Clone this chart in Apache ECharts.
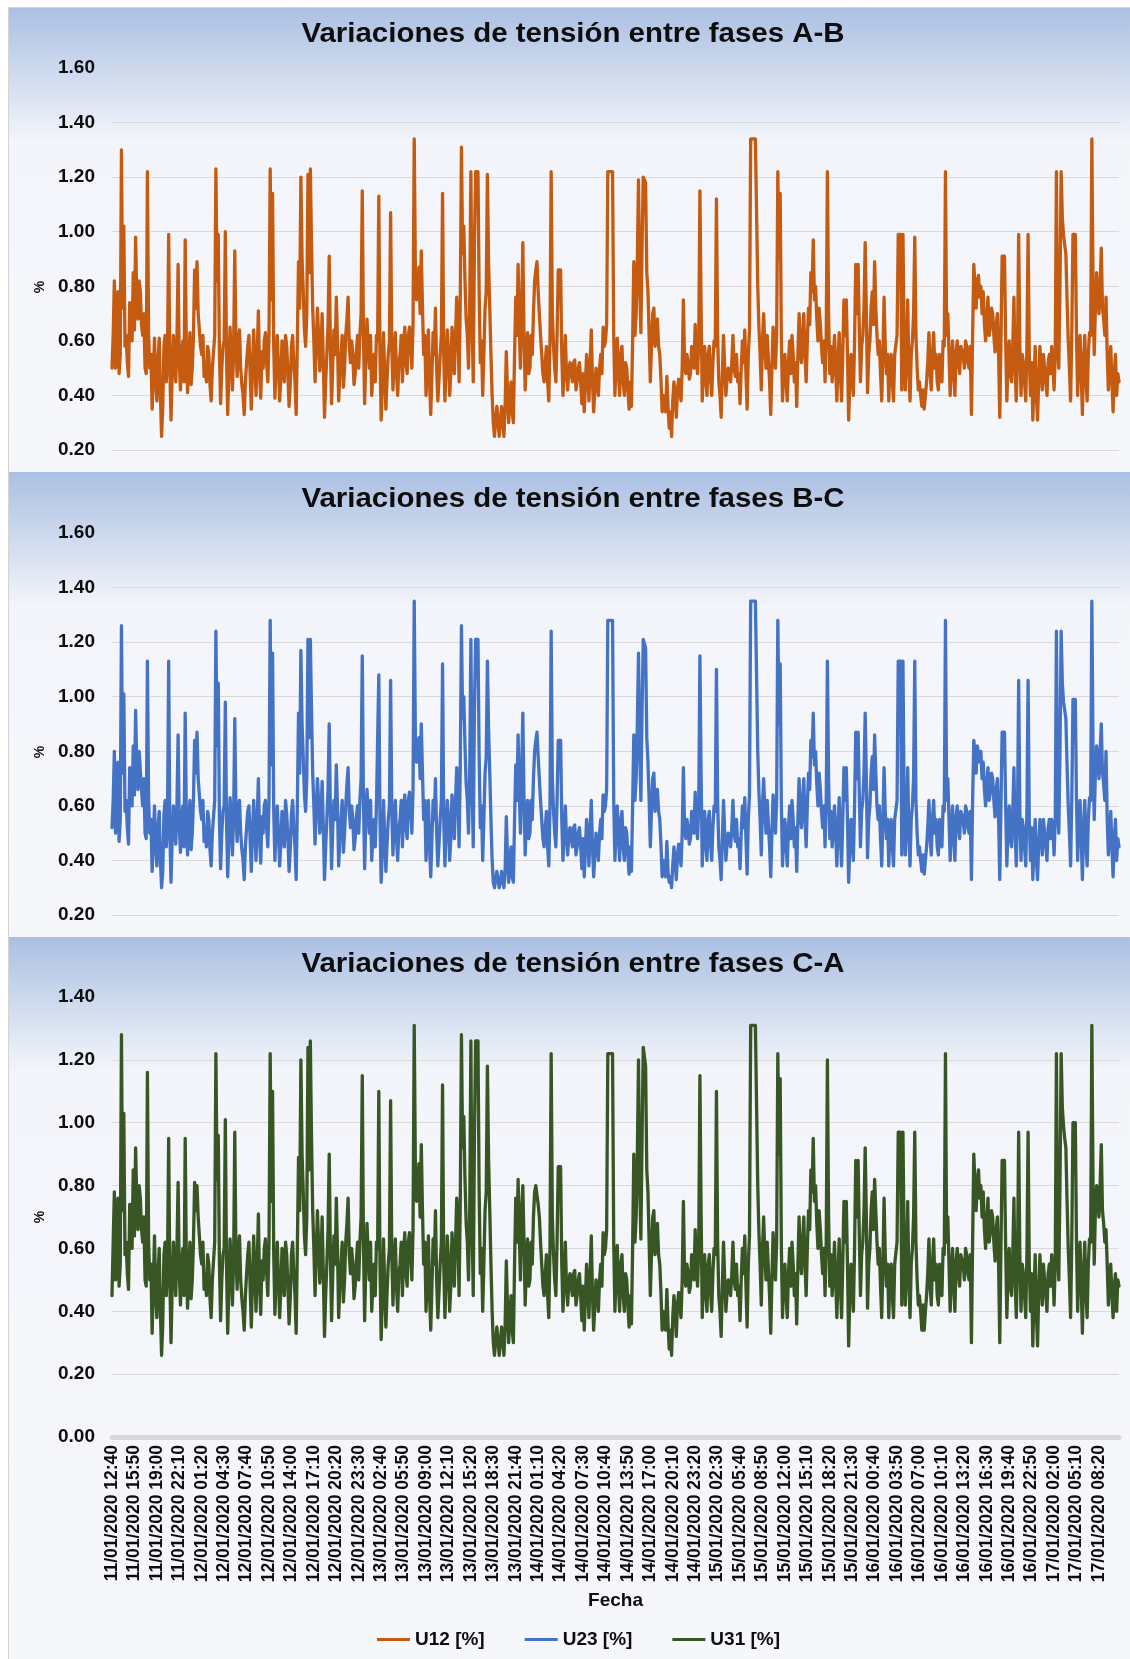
<!DOCTYPE html>
<html>
<head>
<meta charset="utf-8">
<title>Variaciones de tensión entre fases</title>
<script src="https://cdn.jsdelivr.net/npm/echarts@6/dist/echarts.min.js"></script>
<style>
  html, body { margin: 0; padding: 0; background: #ffffff; }
  #chart { width: 1130px; height: 1659px; }
</style>
</head>
<body>
<div id="chart"></div>
<script>
// Axis tick labels (one every 19 records of 10 minutes)
const tickLabels = [
  '11/01/2020 12:40','11/01/2020 15:50','11/01/2020 19:00','11/01/2020 22:10',
  '12/01/2020 01:20','12/01/2020 04:30','12/01/2020 07:40','12/01/2020 10:50',
  '12/01/2020 14:00','12/01/2020 17:10','12/01/2020 20:20','12/01/2020 23:30',
  '13/01/2020 02:40','13/01/2020 05:50','13/01/2020 09:00','13/01/2020 12:10',
  '13/01/2020 15:20','13/01/2020 18:30','13/01/2020 21:40','14/01/2020 01:10',
  '14/01/2020 04:20','14/01/2020 07:30','14/01/2020 10:40','14/01/2020 13:50',
  '14/01/2020 17:00','14/01/2020 20:10','14/01/2020 23:20','15/01/2020 02:30',
  '15/01/2020 05:40','15/01/2020 08:50','15/01/2020 12:00','15/01/2020 15:10',
  '15/01/2020 18:20','15/01/2020 21:30','16/01/2020 00:40','16/01/2020 03:50',
  '16/01/2020 07:00','16/01/2020 10:10','16/01/2020 13:20','16/01/2020 16:30',
  '16/01/2020 19:40','16/01/2020 22:50','17/01/2020 02:00','17/01/2020 05:10',
  '17/01/2020 08:20'
];

// Voltage unbalance between phases, %, one value per 10-minute record
const u12 = [
  0.50,0.62,0.82,0.50,0.55,0.78,0.48,0.55,1.30,0.72,1.02,0.58,0.62,0.52,0.47,0.74,0.70,0.60,0.85,0.64,
  0.98,0.75,0.68,0.82,0.78,0.66,0.62,0.70,0.50,0.48,1.22,0.62,0.50,0.55,0.35,0.48,0.61,0.45,0.38,0.52,
  0.61,0.40,0.25,0.36,0.58,0.62,0.45,0.55,0.99,0.50,0.31,0.48,0.62,0.54,0.45,0.60,0.88,0.52,0.42,0.55,
  0.60,0.45,0.97,0.56,0.41,0.52,0.63,0.44,0.50,0.62,0.86,0.72,0.89,0.70,0.64,0.58,0.55,0.62,0.47,0.52,
  0.45,0.58,0.55,0.44,0.38,0.50,0.56,0.62,1.23,0.82,0.99,0.55,0.37,0.50,0.58,0.60,1.00,0.55,0.33,0.48,
  0.65,0.55,0.42,0.56,0.93,0.58,0.47,0.60,0.64,0.50,0.44,0.40,0.33,0.45,0.52,0.58,0.62,0.48,0.35,0.50,
  0.64,0.52,0.40,0.55,0.71,0.48,0.39,0.56,0.50,0.60,0.63,0.52,0.45,0.62,1.23,0.75,1.14,0.58,0.39,0.52,
  0.62,0.50,0.38,0.46,0.60,0.52,0.45,0.62,0.58,0.48,0.36,0.44,0.58,0.62,0.52,0.45,0.33,0.60,0.89,0.72,
  1.20,0.90,0.78,0.64,0.58,0.70,1.21,0.85,1.23,0.95,0.72,0.60,0.45,0.58,0.72,0.62,0.49,0.56,0.70,0.52,
  0.32,0.45,0.55,0.66,0.91,0.58,0.37,0.52,0.64,0.55,0.76,0.60,0.38,0.48,0.55,0.62,0.43,0.50,0.62,0.68,
  0.76,0.58,0.52,0.60,0.55,0.44,0.48,0.56,0.62,0.50,0.62,0.70,1.15,0.62,0.37,0.55,0.68,0.58,0.50,0.62,
  0.40,0.48,0.55,0.45,0.62,0.60,1.13,0.55,0.31,0.44,0.63,0.48,0.35,0.46,0.55,0.60,1.07,0.58,0.42,0.55,
  0.63,0.48,0.40,0.52,0.55,0.62,0.45,0.58,0.65,0.52,0.48,0.62,0.65,0.58,0.50,0.66,1.34,0.85,0.75,0.80,
  0.87,0.70,0.93,0.72,0.55,0.62,0.40,0.50,0.64,0.45,0.33,0.48,0.63,0.55,0.72,0.50,0.38,0.46,0.55,0.62,
  1.14,0.55,0.38,0.50,0.64,0.56,0.40,0.48,0.65,0.58,0.48,0.62,0.76,0.66,0.45,0.74,1.31,0.92,1.02,0.82,
  0.68,0.62,0.50,0.72,1.22,0.68,0.45,0.95,1.22,1.22,1.22,0.78,0.52,0.60,0.40,0.55,0.72,0.78,1.21,0.88,
  0.72,0.55,0.40,0.30,0.25,0.25,0.36,0.36,0.25,0.30,0.36,0.36,0.25,0.36,0.56,0.42,0.30,0.38,0.45,0.34,
  0.30,0.55,0.76,0.62,0.88,0.65,0.50,0.72,0.96,0.62,0.42,0.55,0.63,0.48,0.50,0.62,0.55,0.70,0.82,0.86,
  0.89,0.78,0.70,0.62,0.55,0.48,0.45,0.52,0.58,0.45,0.38,0.60,1.22,0.70,0.58,0.50,0.45,0.62,0.86,0.86,
  0.86,0.55,0.40,0.50,0.62,0.48,0.42,0.50,0.52,0.48,0.45,0.52,0.53,0.42,0.45,0.50,0.52,0.45,0.37,0.48,
  0.34,0.44,0.55,0.48,0.38,0.52,0.64,0.45,0.34,0.42,0.50,0.46,0.40,0.50,0.55,0.48,0.65,0.58,0.60,0.66,
  1.22,1.22,1.22,1.22,1.22,0.62,0.40,0.52,0.61,0.48,0.40,0.55,0.58,0.45,0.40,0.52,0.50,0.42,0.35,0.45,
  0.36,0.60,0.89,0.62,0.70,0.90,1.19,0.80,0.63,0.95,1.20,1.20,1.18,0.85,0.78,0.62,0.45,0.58,0.70,0.72,
  0.58,0.62,0.68,0.58,0.55,0.46,0.34,0.40,0.36,0.34,0.47,0.36,0.28,0.34,0.25,0.38,0.45,0.40,0.32,0.42,
  0.46,0.42,0.38,0.50,0.75,0.52,0.48,0.55,0.52,0.46,0.48,0.58,0.55,0.50,0.66,0.55,0.48,0.60,1.15,0.72,
  0.38,0.52,0.58,0.45,0.40,0.55,0.58,0.46,0.40,0.52,0.60,0.58,1.12,0.62,0.45,0.40,0.32,0.48,0.62,0.50,
  0.40,0.46,0.50,0.48,0.45,0.52,0.62,0.50,0.47,0.55,0.45,0.48,0.37,0.50,0.60,0.52,0.64,0.48,0.35,0.55,
  0.64,1.34,1.34,1.34,1.34,1.34,1.34,0.80,0.65,0.55,0.42,0.60,0.70,0.58,0.50,0.62,0.62,0.45,0.33,0.50,
  0.65,0.55,0.50,0.62,1.22,0.90,1.14,0.60,0.38,0.50,0.55,0.45,0.38,0.52,0.60,0.48,0.62,0.55,0.45,0.52,
  0.36,0.55,0.70,0.58,0.52,0.62,0.70,0.55,0.45,0.60,0.72,0.66,0.85,0.78,0.97,0.75,0.80,0.68,0.60,0.72,
  0.66,0.58,0.52,0.60,0.45,0.62,1.22,0.70,0.48,0.58,0.45,0.52,0.62,0.50,0.38,0.52,0.63,0.48,0.38,0.55,
  0.75,0.62,0.75,0.55,0.31,0.45,0.55,0.48,0.40,0.60,0.88,0.70,0.88,0.65,0.45,0.58,0.62,0.72,0.96,0.70,
  0.41,0.55,0.60,0.72,0.78,0.66,0.89,0.72,0.62,0.55,0.60,0.48,0.38,0.55,0.76,0.58,0.48,0.55,0.38,0.52,
  0.55,0.45,0.38,0.55,0.55,0.62,0.99,0.99,0.99,0.42,0.99,0.60,0.42,0.55,0.75,0.50,0.38,0.55,0.60,0.70,
  0.98,0.62,0.50,0.42,0.45,0.40,0.36,0.42,0.35,0.40,0.45,0.52,0.63,0.48,0.42,0.55,0.63,0.50,0.55,0.45,
  0.42,0.55,0.52,0.45,0.60,0.58,1.22,0.62,0.70,0.55,0.40,0.52,0.60,0.48,0.40,0.56,0.60,0.52,0.48,0.58,
  0.58,0.55,0.50,0.60,0.58,0.52,0.50,0.58,0.33,0.62,0.88,0.80,0.72,0.82,0.84,0.76,0.80,0.70,0.78,0.66,
  0.60,0.68,0.76,0.62,0.65,0.72,0.70,0.62,0.56,0.66,0.70,0.55,0.32,0.60,0.91,0.91,0.91,0.60,0.38,0.52,
  0.60,0.48,0.45,0.58,0.76,0.50,0.38,0.55,0.99,0.58,0.40,0.55,0.52,0.45,0.38,0.58,0.99,0.55,0.40,0.52,
  0.31,0.45,0.58,0.40,0.31,0.46,0.58,0.50,0.42,0.55,0.50,0.45,0.40,0.52,0.55,0.48,0.58,0.52,0.42,0.55,
  1.22,0.60,0.50,0.80,1.22,1.05,0.99,0.95,0.92,0.75,0.60,0.50,0.38,0.62,0.99,0.99,0.99,0.62,0.40,0.55,
  0.62,0.48,0.33,0.52,0.62,0.46,0.38,0.55,0.63,0.62,1.34,0.80,0.55,0.72,0.85,0.78,0.70,0.80,0.94,0.72,
  0.68,0.62,0.76,0.55,0.42,0.50,0.58,0.45,0.34,0.48,0.55,0.40,0.48,0.45
];
const u23 = [
  0.52,0.62,0.80,0.50,0.53,0.76,0.47,0.55,1.26,0.72,1.01,0.58,0.62,0.52,0.46,0.74,0.72,0.60,0.82,0.64,
  0.95,0.75,0.66,0.80,0.80,0.66,0.60,0.70,0.50,0.48,1.13,0.62,0.50,0.55,0.36,0.48,0.60,0.45,0.38,0.52,
  0.58,0.40,0.30,0.36,0.57,0.62,0.45,0.55,1.13,0.50,0.32,0.48,0.60,0.54,0.46,0.60,0.86,0.52,0.43,0.55,
  0.60,0.45,0.94,0.56,0.42,0.52,0.62,0.44,0.50,0.62,0.84,0.72,0.87,0.70,0.64,0.58,0.55,0.62,0.47,0.52,
  0.45,0.58,0.55,0.44,0.38,0.50,0.56,0.62,1.24,0.82,1.05,0.55,0.37,0.50,0.58,0.60,0.98,0.55,0.34,0.48,
  0.63,0.55,0.42,0.56,0.92,0.58,0.47,0.60,0.62,0.50,0.44,0.40,0.33,0.45,0.52,0.58,0.60,0.48,0.36,0.50,
  0.62,0.52,0.40,0.55,0.70,0.48,0.39,0.56,0.50,0.60,0.62,0.52,0.45,0.62,1.28,0.75,1.16,0.58,0.40,0.52,
  0.60,0.50,0.38,0.46,0.58,0.52,0.45,0.62,0.57,0.48,0.36,0.44,0.57,0.62,0.52,0.45,0.33,0.60,0.94,0.72,
  1.17,0.90,0.78,0.64,0.58,0.70,1.21,0.85,1.21,0.95,0.72,0.60,0.46,0.58,0.70,0.62,0.50,0.56,0.69,0.52,
  0.33,0.45,0.55,0.66,0.90,0.58,0.37,0.52,0.62,0.55,0.75,0.60,0.38,0.48,0.55,0.62,0.43,0.50,0.60,0.68,
  0.74,0.58,0.52,0.60,0.55,0.44,0.48,0.56,0.60,0.50,0.62,0.70,1.15,0.62,0.37,0.55,0.66,0.58,0.50,0.62,
  0.40,0.48,0.55,0.45,0.60,0.60,1.08,0.55,0.32,0.44,0.62,0.48,0.36,0.46,0.55,0.60,1.06,0.58,0.42,0.55,
  0.62,0.48,0.40,0.52,0.55,0.62,0.45,0.58,0.64,0.52,0.48,0.62,0.65,0.58,0.50,0.66,1.35,0.85,0.76,0.80,
  0.85,0.70,0.90,0.72,0.55,0.62,0.40,0.50,0.62,0.45,0.34,0.48,0.62,0.55,0.70,0.50,0.38,0.46,0.55,0.62,
  1.12,0.55,0.38,0.50,0.62,0.56,0.40,0.48,0.64,0.58,0.48,0.62,0.74,0.66,0.45,0.74,1.26,0.92,1.00,0.82,
  0.68,0.62,0.50,0.72,1.21,0.68,0.45,0.95,1.21,1.21,1.21,0.78,0.52,0.60,0.40,0.55,0.72,0.78,1.13,0.88,
  0.72,0.55,0.40,0.32,0.30,0.30,0.36,0.36,0.30,0.32,0.36,0.36,0.30,0.36,0.56,0.42,0.32,0.38,0.45,0.34,
  0.32,0.55,0.75,0.62,0.86,0.65,0.50,0.72,0.94,0.62,0.42,0.55,0.62,0.48,0.50,0.62,0.55,0.70,0.80,0.84,
  0.87,0.78,0.70,0.62,0.55,0.48,0.45,0.52,0.58,0.45,0.38,0.60,1.24,0.70,0.58,0.50,0.45,0.62,0.84,0.84,
  0.84,0.55,0.40,0.50,0.60,0.48,0.42,0.50,0.52,0.48,0.45,0.52,0.53,0.42,0.45,0.50,0.52,0.45,0.37,0.48,
  0.34,0.44,0.55,0.48,0.38,0.52,0.62,0.45,0.34,0.42,0.50,0.46,0.40,0.50,0.55,0.48,0.64,0.58,0.60,0.66,
  1.28,1.28,1.28,1.28,1.28,0.62,0.40,0.52,0.60,0.48,0.40,0.55,0.58,0.45,0.40,0.52,0.50,0.42,0.35,0.45,
  0.36,0.60,0.86,0.62,0.70,0.90,1.16,0.80,0.62,0.95,1.21,1.21,1.18,0.85,0.76,0.62,0.45,0.58,0.70,0.72,
  0.58,0.62,0.66,0.58,0.55,0.46,0.34,0.40,0.36,0.34,0.47,0.36,0.32,0.34,0.30,0.38,0.45,0.40,0.33,0.42,
  0.46,0.42,0.38,0.50,0.74,0.52,0.48,0.55,0.52,0.46,0.48,0.58,0.55,0.50,0.65,0.55,0.48,0.60,1.15,0.72,
  0.38,0.52,0.58,0.45,0.40,0.55,0.58,0.46,0.40,0.52,0.60,0.58,1.10,0.62,0.45,0.40,0.33,0.48,0.62,0.50,
  0.40,0.46,0.50,0.48,0.45,0.52,0.62,0.50,0.47,0.55,0.45,0.48,0.37,0.50,0.60,0.52,0.63,0.48,0.35,0.55,
  0.64,1.35,1.35,1.35,1.35,1.35,1.35,0.80,0.65,0.55,0.42,0.60,0.70,0.58,0.50,0.62,0.62,0.45,0.34,0.50,
  0.64,0.55,0.50,0.62,1.28,0.90,1.12,0.60,0.38,0.50,0.55,0.45,0.38,0.52,0.60,0.48,0.62,0.55,0.45,0.52,
  0.36,0.55,0.70,0.58,0.52,0.62,0.70,0.55,0.45,0.60,0.72,0.66,0.84,0.78,0.94,0.75,0.80,0.68,0.60,0.72,
  0.66,0.58,0.52,0.60,0.45,0.62,1.13,0.70,0.48,0.58,0.45,0.52,0.60,0.50,0.38,0.52,0.63,0.48,0.38,0.55,
  0.74,0.62,0.74,0.55,0.32,0.45,0.55,0.48,0.40,0.60,0.87,0.70,0.87,0.65,0.45,0.58,0.62,0.72,0.94,0.70,
  0.41,0.55,0.60,0.72,0.78,0.66,0.86,0.72,0.60,0.55,0.60,0.48,0.38,0.55,0.74,0.58,0.48,0.55,0.38,0.52,
  0.55,0.45,0.38,0.55,0.55,0.62,1.13,1.13,1.13,0.42,1.13,0.60,0.42,0.55,0.74,0.50,0.38,0.55,0.60,0.70,
  1.13,0.62,0.50,0.42,0.45,0.40,0.36,0.42,0.35,0.40,0.45,0.52,0.62,0.48,0.42,0.55,0.62,0.50,0.55,0.45,
  0.42,0.55,0.52,0.45,0.60,0.58,1.28,0.62,0.70,0.55,0.40,0.52,0.60,0.48,0.40,0.56,0.60,0.52,0.48,0.58,
  0.58,0.55,0.50,0.60,0.58,0.52,0.50,0.58,0.33,0.62,0.84,0.80,0.72,0.82,0.82,0.76,0.80,0.70,0.76,0.66,
  0.60,0.68,0.74,0.62,0.65,0.72,0.70,0.62,0.56,0.66,0.70,0.55,0.33,0.60,0.87,0.87,0.87,0.60,0.38,0.52,
  0.60,0.48,0.45,0.58,0.74,0.50,0.38,0.55,1.06,0.58,0.40,0.55,0.52,0.45,0.38,0.58,1.06,0.55,0.40,0.52,
  0.33,0.45,0.55,0.40,0.33,0.46,0.55,0.50,0.42,0.55,0.50,0.45,0.40,0.52,0.55,0.48,0.55,0.52,0.42,0.55,
  1.24,0.60,0.50,0.80,1.24,1.05,0.98,0.95,0.92,0.75,0.60,0.50,0.38,0.62,0.99,0.99,0.99,0.62,0.40,0.55,
  0.62,0.48,0.33,0.52,0.62,0.46,0.38,0.55,0.63,0.62,1.35,0.80,0.55,0.72,0.82,0.78,0.70,0.80,0.90,0.72,
  0.68,0.62,0.80,0.55,0.42,0.50,0.58,0.45,0.34,0.48,0.55,0.40,0.48,0.45
];
const u31 = [
  0.45,0.62,0.78,0.50,0.52,0.76,0.48,0.55,1.28,0.72,1.03,0.58,0.62,0.52,0.47,0.74,0.72,0.60,0.85,0.64,
  0.92,0.75,0.66,0.80,0.76,0.66,0.62,0.70,0.50,0.48,1.16,0.62,0.50,0.55,0.33,0.48,0.64,0.45,0.38,0.52,
  0.60,0.40,0.26,0.36,0.58,0.62,0.45,0.55,0.95,0.50,0.30,0.48,0.62,0.54,0.45,0.60,0.81,0.52,0.42,0.55,
  0.60,0.45,0.95,0.56,0.41,0.52,0.62,0.44,0.50,0.62,0.81,0.72,0.80,0.70,0.64,0.58,0.55,0.62,0.47,0.52,
  0.45,0.58,0.55,0.44,0.38,0.50,0.56,0.62,1.22,0.82,0.96,0.55,0.37,0.50,0.58,0.60,1.01,0.55,0.33,0.48,
  0.63,0.55,0.42,0.56,0.97,0.58,0.47,0.60,0.64,0.50,0.44,0.40,0.34,0.45,0.52,0.58,0.62,0.48,0.35,0.50,
  0.64,0.52,0.40,0.55,0.71,0.48,0.39,0.56,0.50,0.60,0.63,0.52,0.45,0.62,1.22,0.75,1.10,0.58,0.39,0.52,
  0.62,0.50,0.38,0.46,0.60,0.52,0.45,0.62,0.58,0.48,0.36,0.44,0.58,0.62,0.52,0.45,0.33,0.60,0.89,0.72,
  1.20,0.90,0.78,0.64,0.58,0.70,1.24,0.85,1.26,0.95,0.72,0.60,0.45,0.58,0.72,0.62,0.49,0.56,0.70,0.52,
  0.32,0.45,0.55,0.66,0.90,0.58,0.37,0.52,0.64,0.55,0.76,0.60,0.38,0.48,0.55,0.62,0.43,0.50,0.62,0.68,
  0.76,0.58,0.52,0.60,0.55,0.44,0.48,0.56,0.62,0.50,0.62,0.70,1.15,0.62,0.37,0.55,0.68,0.58,0.50,0.62,
  0.40,0.48,0.55,0.45,0.62,0.60,1.10,0.55,0.31,0.44,0.63,0.48,0.35,0.46,0.55,0.60,1.07,0.58,0.42,0.55,
  0.63,0.48,0.40,0.52,0.55,0.62,0.45,0.58,0.65,0.52,0.48,0.62,0.65,0.58,0.50,0.66,1.31,0.85,0.75,0.80,
  0.87,0.70,0.93,0.72,0.55,0.62,0.40,0.50,0.64,0.45,0.34,0.48,0.63,0.55,0.72,0.50,0.38,0.46,0.55,0.62,
  1.12,0.55,0.38,0.50,0.64,0.56,0.40,0.48,0.65,0.58,0.48,0.62,0.76,0.66,0.45,0.74,1.28,0.92,1.02,0.82,
  0.68,0.62,0.50,0.72,1.26,0.68,0.45,0.95,1.26,1.26,1.26,0.78,0.52,0.60,0.40,0.55,0.72,0.78,1.18,0.88,
  0.72,0.55,0.40,0.30,0.26,0.26,0.35,0.35,0.26,0.30,0.35,0.35,0.26,0.35,0.56,0.42,0.30,0.38,0.45,0.34,
  0.30,0.55,0.76,0.62,0.82,0.65,0.50,0.72,0.80,0.62,0.42,0.55,0.63,0.48,0.50,0.62,0.55,0.70,0.78,0.80,
  0.80,0.74,0.70,0.62,0.55,0.48,0.45,0.52,0.58,0.45,0.38,0.60,1.22,0.70,0.58,0.50,0.45,0.62,0.86,0.86,
  0.86,0.55,0.40,0.50,0.62,0.48,0.42,0.50,0.52,0.48,0.45,0.52,0.53,0.42,0.45,0.50,0.52,0.45,0.37,0.48,
  0.34,0.44,0.55,0.48,0.38,0.52,0.64,0.45,0.34,0.42,0.50,0.46,0.40,0.50,0.55,0.48,0.65,0.58,0.60,0.66,
  1.22,1.22,1.22,1.22,1.22,0.62,0.40,0.52,0.61,0.48,0.40,0.55,0.58,0.45,0.40,0.52,0.50,0.42,0.35,0.45,
  0.36,0.60,0.90,0.62,0.70,0.90,1.20,0.80,0.63,0.95,1.24,1.24,1.18,0.85,0.78,0.62,0.45,0.58,0.70,0.72,
  0.58,0.62,0.68,0.58,0.55,0.46,0.34,0.40,0.36,0.34,0.47,0.36,0.28,0.34,0.26,0.38,0.45,0.40,0.32,0.42,
  0.46,0.42,0.38,0.50,0.75,0.52,0.48,0.55,0.52,0.46,0.48,0.58,0.55,0.50,0.66,0.55,0.48,0.60,1.15,0.72,
  0.38,0.52,0.58,0.45,0.40,0.55,0.58,0.46,0.40,0.52,0.60,0.58,1.10,0.62,0.45,0.40,0.32,0.48,0.62,0.50,
  0.40,0.46,0.50,0.48,0.45,0.52,0.62,0.50,0.47,0.55,0.45,0.48,0.37,0.50,0.60,0.52,0.64,0.48,0.35,0.55,
  0.64,1.31,1.31,1.31,1.31,1.31,1.31,0.80,0.65,0.55,0.42,0.60,0.70,0.58,0.50,0.62,0.62,0.45,0.33,0.50,
  0.65,0.55,0.50,0.62,1.22,0.90,1.14,0.60,0.38,0.50,0.55,0.45,0.38,0.52,0.60,0.48,0.62,0.55,0.45,0.52,
  0.36,0.55,0.70,0.58,0.52,0.62,0.70,0.55,0.45,0.60,0.72,0.66,0.85,0.78,0.95,0.75,0.80,0.68,0.60,0.72,
  0.66,0.58,0.52,0.60,0.45,0.62,1.20,0.70,0.48,0.58,0.45,0.52,0.62,0.50,0.38,0.52,0.63,0.48,0.38,0.55,
  0.75,0.62,0.75,0.55,0.29,0.45,0.55,0.48,0.40,0.60,0.88,0.70,0.88,0.65,0.45,0.58,0.62,0.72,0.92,0.70,
  0.41,0.55,0.60,0.72,0.78,0.66,0.82,0.72,0.62,0.55,0.60,0.48,0.38,0.55,0.76,0.58,0.48,0.55,0.38,0.52,
  0.55,0.45,0.38,0.55,0.55,0.62,0.97,0.97,0.97,0.42,0.97,0.60,0.42,0.55,0.75,0.50,0.38,0.55,0.60,0.70,
  0.97,0.62,0.50,0.42,0.45,0.40,0.34,0.42,0.34,0.40,0.45,0.52,0.63,0.48,0.42,0.55,0.63,0.50,0.55,0.45,
  0.42,0.55,0.52,0.45,0.60,0.58,1.22,0.62,0.70,0.55,0.40,0.52,0.60,0.48,0.40,0.56,0.60,0.52,0.48,0.58,
  0.58,0.55,0.50,0.60,0.58,0.52,0.50,0.58,0.30,0.62,0.90,0.80,0.72,0.82,0.85,0.76,0.80,0.70,0.78,0.66,
  0.60,0.68,0.76,0.62,0.65,0.72,0.70,0.62,0.56,0.66,0.70,0.55,0.30,0.60,0.88,0.88,0.88,0.60,0.38,0.52,
  0.60,0.48,0.45,0.58,0.76,0.50,0.38,0.55,0.97,0.58,0.40,0.55,0.52,0.45,0.38,0.58,0.97,0.55,0.40,0.52,
  0.29,0.45,0.58,0.40,0.29,0.46,0.58,0.50,0.42,0.55,0.50,0.45,0.40,0.52,0.55,0.48,0.58,0.52,0.42,0.55,
  1.22,0.60,0.50,0.80,1.22,1.05,0.99,0.95,0.92,0.75,0.60,0.50,0.38,0.62,1.00,1.00,1.00,0.62,0.40,0.55,
  0.62,0.48,0.33,0.52,0.62,0.46,0.38,0.55,0.63,0.62,1.31,0.80,0.55,0.72,0.80,0.78,0.70,0.80,0.93,0.72,
  0.68,0.62,0.66,0.55,0.42,0.50,0.55,0.45,0.38,0.48,0.52,0.40,0.50,0.48
];

const seriesNames = ['U12 [%]', 'U23 [%]', 'U31 [%]'];
const panelTitles = [
  'Variaciones de tensión entre fases A-B',
  'Variaciones de tensión entre fases B-C',
  'Variaciones de tensión entre fases C-A'
];

const FONT = '"Liberation Sans", Arial, Helvetica, sans-serif';
const colors = ['#c55a11', '#4472c4', '#375623'];
const RECORDS_PER_TICK = 19;   // 19 records of 10 min between labels

// Full list of 10-minute timestamps for the category axis
function parseStamp(s) {
  const [d, t] = s.split(' ');
  const [dd, mm, yy] = d.split('/').map(Number);
  const [hh, mi] = t.split(':').map(Number);
  return Date.UTC(yy, mm - 1, dd, hh, mi);
}
function fmtStamp(ms) {
  const d = new Date(ms);
  const p = n => String(n).padStart(2, '0');
  return p(d.getUTCDate()) + '/' + p(d.getUTCMonth() + 1) + '/' + d.getUTCFullYear() +
    ' ' + p(d.getUTCHours()) + ':' + p(d.getUTCMinutes());
}
const categories = [];
tickLabels.forEach((lab, i) => {
  const t0 = parseStamp(lab);
  const n = i === tickLabels.length - 1 ? RECORDS_PER_TICK - 1 : RECORDS_PER_TICK;
  for (let k = 0; k < n; k++) categories.push(fmtStamp(t0 + k * 600000));
});

const panels = [
  { top: 7,   height: 465, gridTop: 68,  gridHeight: 382, min: 0.2, max: 1.6, pct: 287 },
  { top: 472, height: 465, gridTop: 533, gridHeight: 382, min: 0.2, max: 1.6, pct: 752 },
  { top: 937, height: 722, gridTop: 997, gridHeight: 440, min: 0,   max: 1.4, pct: 1217 }
];
const seriesValues = [u12, u23, u31];

const chart = echarts.init(document.getElementById('chart'), null, { renderer: 'canvas' });

const grids = [], xAxes = [], yAxes = [], series = [], graphics = [];

panels.forEach((p, i) => {
  const last = i === panels.length - 1;
  // panel background
  graphics.push({
    type: 'rect', z: -20, silent: true,
    shape: { x: 8, y: p.top, width: 1122, height: p.height },
    style: {
      fill: {
        type: 'linear', x: 0, y: 0, x2: 0, y2: 1,
        colorStops: [
          { offset: 0, color: '#abc0e3' },
          { offset: 135 / p.height, color: '#f3f5fa' },
          { offset: 1, color: '#f5f7fb' }
        ]
      }
    }
  });
  graphics.push({
    type: 'text', z: 10, silent: true,
    x: 573, y: p.top + 28, scaleX: 1.09,
    style: {
      text: panelTitles[i], font: 'bold 27px ' + FONT, fill: '#0d0d0d',
      align: 'center', verticalAlign: 'middle'
    }
  });
  graphics.push({
    type: 'text', z: 10, silent: true,
    x: 40, y: p.pct, rotation: Math.PI / 2,
    style: {
      text: '%', font: 'bold 14px ' + FONT, fill: '#0d0d0d',
      align: 'center', verticalAlign: 'middle'
    }
  });

  grids.push({
    left: 112, width: 1007, top: p.gridTop, height: p.gridHeight,
    containLabel: false, outerBoundsMode: 'none'
  });
  xAxes.push({
    type: 'category', gridIndex: i, data: categories, boundaryGap: false,
    axisTick: { show: false },
    splitLine: { show: false },
    axisLine: { show: last, lineStyle: { color: '#d9d9d9', width: 5 } },
    axisLabel: {
      show: last, interval: RECORDS_PER_TICK - 1, rotate: 90, margin: 8,
      fontFamily: FONT, fontSize: 17.5, fontWeight: 'bold', color: '#0d0d0d'
    },
    name: last ? 'Fecha' : '',
    nameLocation: 'middle', nameGap: 154,
    nameTextStyle: { fontFamily: FONT, fontSize: 19, fontWeight: 'bold', color: '#0d0d0d' }
  });
  yAxes.push({
    type: 'value', gridIndex: i, min: p.min, max: p.max, interval: 0.2,
    axisLine: { show: false }, axisTick: { show: false },
    splitLine: { show: true, lineStyle: { color: '#d9d9d9', width: 1 } },
    axisLabel: {
      margin: 17, formatter: v => v.toFixed(2),
      fontFamily: FONT, fontSize: 19, fontWeight: 'bold', color: '#0d0d0d'
    }
  });
  series.push({
    name: seriesNames[i], type: 'line', xAxisIndex: i, yAxisIndex: i,
    data: seriesValues[i],
    symbol: 'none', showSymbol: false, smooth: false,
    lineStyle: { color: colors[i], width: 3.3, join: 'round', cap: 'round' },
    itemStyle: { color: colors[i] },
    emphasis: { disabled: true }
  });
});

// outer frame edges
graphics.push({ type: 'line', z: -10, silent: true, shape: { x1: 8.5, y1: 7, x2: 8.5, y2: 1659 }, style: { stroke: '#d4d4d4', lineWidth: 1 } });
graphics.push({ type: 'line', z: -10, silent: true, shape: { x1: 8, y1: 7.5, x2: 1130, y2: 7.5 }, style: { stroke: '#d4d4d4', lineWidth: 1 } });

chart.setOption({
  animation: false,
  backgroundColor: '#ffffff',
  color: colors,
  grid: grids,
  xAxis: xAxes,
  yAxis: yAxes,
  series: series,
  graphic: { elements: graphics },
  legend: {
    data: seriesNames, left: 377, top: 1630, padding: 0,
    icon: 'rect', itemWidth: 33, itemHeight: 3, itemGap: 40,
    textStyle: { fontFamily: FONT, fontSize: 19, fontWeight: 'bold', color: '#0d0d0d' }
  }
});
</script>
</body>
</html>
